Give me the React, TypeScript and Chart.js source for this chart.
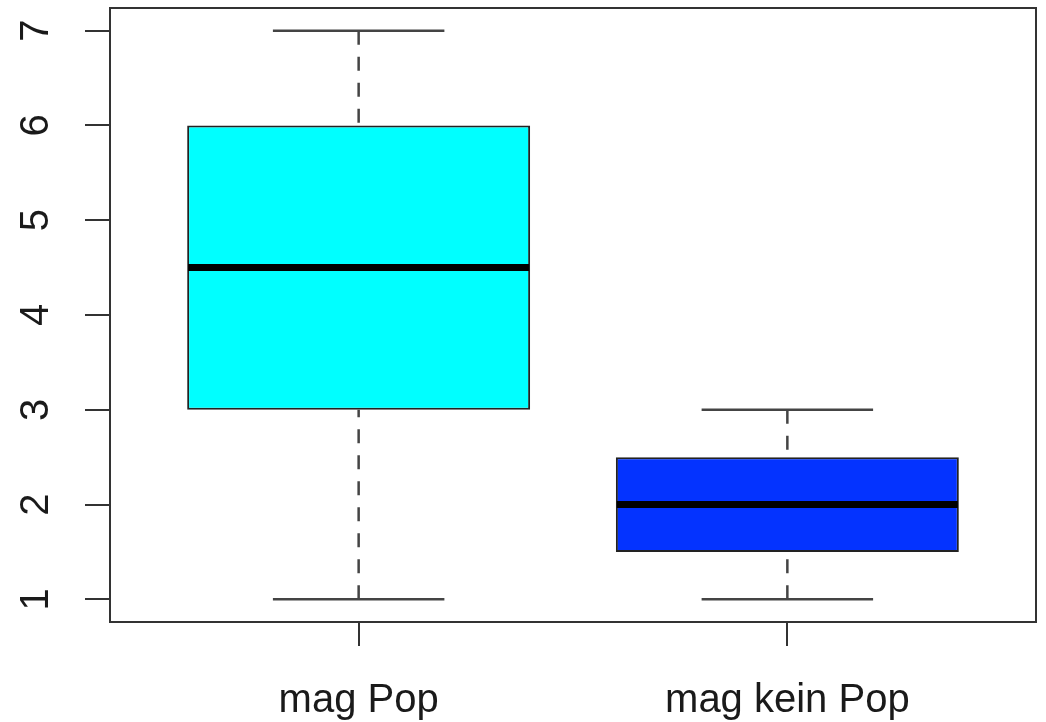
import React, { useEffect, useRef } from "react";
import { Chart, registerables } from "chart.js";

Chart.register(...registerables);

const categories = ["mag Pop", "mag kein Pop"];
const whiskerLow = [1, 1];
const q1 = [3, 1.5];
const median = [4.5, 2];
const q3 = [6, 2.5];
const whiskerHigh = [7, 3];
const yTicks = [1, 2, 3, 4, 5, 6, 7];
const boxColors = ["#00FFFF", "#0433FF"];

const FONT = "'Liberation Sans', Arial, Helvetica, sans-serif";

const boxPlugin = {
  id: "boxExtras",
  afterDatasetsDraw(chart: any) {
    const { ctx, scales } = chart;
    const y = scales.y;
    const meta = chart.getDatasetMeta(0);
    ctx.save();
    categories.forEach((_, i) => {
      const bar = meta.data[i];
      const cx = bar.x;
      const half = bar.width / 2;
      const capHalf = half / 2;
      ctx.strokeStyle = "#444";
      ctx.lineWidth = 2.5;
      ctx.setLineDash([14, 12]);
      ctx.beginPath();
      ctx.moveTo(cx, y.getPixelForValue(whiskerHigh[i]));
      ctx.lineTo(cx, y.getPixelForValue(q3[i]));
      ctx.moveTo(cx, y.getPixelForValue(whiskerLow[i]));
      ctx.lineTo(cx, y.getPixelForValue(q1[i]));
      ctx.stroke();
      ctx.setLineDash([]);
      ctx.beginPath();
      ctx.moveTo(cx - capHalf, y.getPixelForValue(whiskerHigh[i]));
      ctx.lineTo(cx + capHalf, y.getPixelForValue(whiskerHigh[i]));
      ctx.moveTo(cx - capHalf, y.getPixelForValue(whiskerLow[i]));
      ctx.lineTo(cx + capHalf, y.getPixelForValue(whiskerLow[i]));
      ctx.stroke();
      ctx.strokeStyle = "#000";
      ctx.lineWidth = 7;
      ctx.beginPath();
      ctx.moveTo(cx - half + 1, y.getPixelForValue(median[i]));
      ctx.lineTo(cx + half - 1, y.getPixelForValue(median[i]));
      ctx.stroke();
    });
    ctx.restore();
  },
  afterDraw(chart: any) {
    const { ctx, chartArea, scales } = chart;
    const y = scales.y;
    ctx.save();
    ctx.strokeStyle = "#333";
    ctx.lineWidth = 2;
    ctx.strokeRect(chartArea.left, chartArea.top, chartArea.right - chartArea.left, chartArea.bottom - chartArea.top);
    ctx.fillStyle = "#1a1a1a";
    ctx.font = `40px ${FONT}`;
    ctx.textAlign = "center";
    ctx.textBaseline = "middle";
    yTicks.forEach((v) => {
      const py = y.getPixelForValue(v);
      ctx.save();
      ctx.translate(37, py);
      ctx.rotate(-Math.PI / 2);
      ctx.fillText(String(v), 0, 0);
      ctx.restore();
    });
    ctx.restore();
  },
};

export default function App() {
  const ref = useRef<HTMLCanvasElement | null>(null);
  useEffect(() => {
    if (!ref.current) return;
    const chart = new Chart(ref.current, {
      type: "bar",
      data: {
        datasets: [
          {
            data: categories.map((_, i) => ({ x: i + 1, y: [q1[i], q3[i]] })) as any,
            backgroundColor: boxColors,
            borderColor: "#222",
            borderWidth: 2,
            borderSkipped: false,
            barPercentage: 0.8,
            categoryPercentage: 1,
          },
        ],
      },
      options: {
        animation: false,
        responsive: false,
        layout: { padding: { top: 8, right: 10, left: 0, bottom: 0 } },
        plugins: { legend: { display: false }, tooltip: { enabled: false } },
        scales: {
          x: {
            type: "linear",
            min: 0.42,
            max: 2.58,
            offset: false,
            afterBuildTicks: (s: any) => {
              s.ticks = categories.map((_, i) => ({ value: i + 1 }));
            },
            afterFit: (s: any) => {
              s.height = 100;
            },
            border: { display: false },
            grid: { offset: false, drawOnChartArea: false, drawTicks: true, tickLength: 24, color: "#333", lineWidth: 2 },
            ticks: {
              padding: 31,
              color: "#1a1a1a",
              font: { size: 40, family: FONT },
              maxRotation: 0,
              autoSkip: false,
              callback: (v: any) => categories[Number(v) - 1] ?? "",
            },
          },
          y: {
            type: "linear",
            min: 0.76,
            max: 7.24,
            afterBuildTicks: (s: any) => {
              s.ticks = yTicks.map((v) => ({ value: v }));
            },
            afterFit: (s: any) => {
              s.width = 110;
            },
            border: { display: false },
            grid: { drawOnChartArea: false, drawTicks: true, tickLength: 25, color: "#333", lineWidth: 2 },
            ticks: { display: false },
          },
        },
      },
      plugins: [boxPlugin],
    });
    return () => chart.destroy();
  }, []);
  return (
    <div style={{ position: "fixed", left: 0, top: 0, width: 1046, height: 722, background: "#fff" }}>
      <canvas ref={ref} width={1046} height={722} style={{ display: "block" }} />
    </div>
  );
}
